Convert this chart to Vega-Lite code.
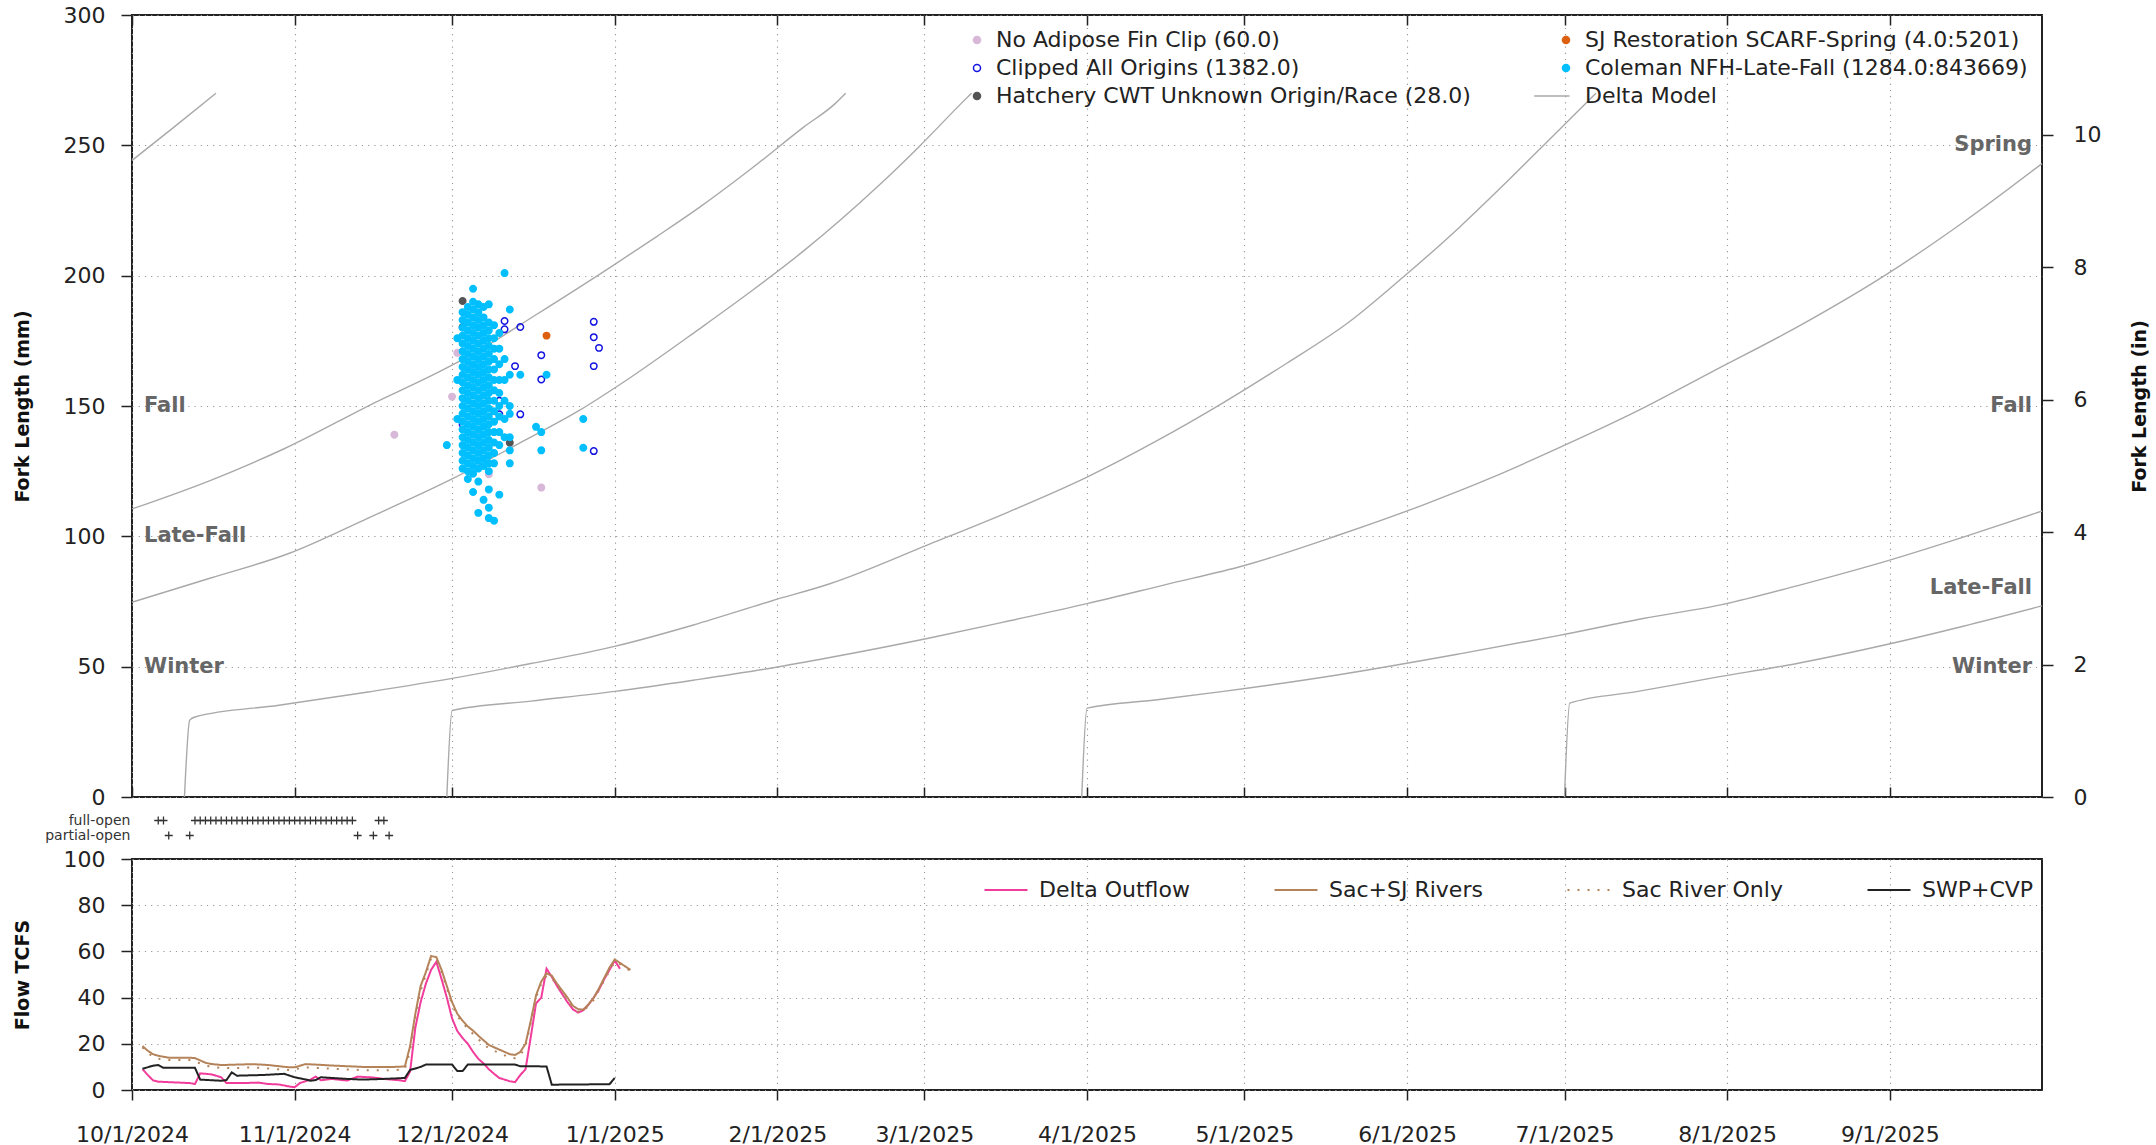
{
"$schema":"https://vega.github.io/schema/vega-lite/v6.json",
"padding":{"left":12,"top":3,"right":4,"bottom":0},
"autosize":{"type":"pad"},
"background":"white",
"bounds":"flush",
"spacing":16,
"resolve":{"scale":{"stroke":"independent","fill":"independent","shape":"independent","strokeDash":"independent"},"legend":{"stroke":"independent","fill":"independent","shape":"independent","strokeDash":"independent"}},
"config":{
 "font":"DejaVu Sans",
 "view":{"stroke":"#222","strokeWidth":2},
 "axis":{"labelFont":"DejaVu Sans","labelFontSize":22,"labelColor":"#222","titleFont":"DejaVu Sans","titleFontSize":19,"titleFontWeight":"bold","titleColor":"#111","tickColor":"#222","tickWidth":1.5,"domain":false,"gridColor":"#999","gridDash":[1.2,5],"gridWidth":1.1,"labelLimit":1000},
 "legend":{"labelFont":"DejaVu Sans","labelFontSize":22,"labelColor":"#222","labelLimit":1000}
},
"datasets":{
"curves":[
{"c":"S0","d":"2024/10/01","v":244.2},{"c":"S0","d":"2024/10/09","v":257},{"c":"S0","d":"2024/10/17","v":270},
{"c":"F","d":"2024/10/01","v":110.5},{"c":"F","d":"2024/10/16","v":121.5},{"c":"F","d":"2024/10/30","v":133.6},{"c":"F","d":"2024/11/17","v":152},{"c":"F","d":"2024/11/25","v":159.6},{"c":"F","d":"2024/12/05","v":170},{"c":"F","d":"2024/12/17","v":185},{"c":"F","d":"2024/12/31","v":203},{"c":"F","d":"2025/01/09","v":215},{"c":"F","d":"2025/01/17","v":226},{"c":"F","d":"2025/01/27","v":241},{"c":"F","d":"2025/02/06","v":257},{"c":"F","d":"2025/02/12","v":266},{"c":"F","d":"2025/02/14","v":270},
{"c":"LF","d":"2024/10/01","v":74.7},{"c":"LF","d":"2024/10/16","v":84},{"c":"LF","d":"2024/10/31","v":93.5},{"c":"LF","d":"2024/11/15","v":107},{"c":"LF","d":"2024/12/01","v":122},{"c":"LF","d":"2024/12/15","v":137},{"c":"LF","d":"2024/12/25","v":148},{"c":"LF","d":"2025/01/03","v":159.6},{"c":"LF","d":"2025/01/17","v":179.4},{"c":"LF","d":"2025/01/27","v":194},{"c":"LF","d":"2025/02/06","v":209.5},{"c":"LF","d":"2025/02/20","v":234},{"c":"LF","d":"2025/02/28","v":249.5},{"c":"LF","d":"2025/03/08","v":266},{"c":"LF","d":"2025/03/10","v":270},
{"c":"A","d":"2024/10/11","v":0},{"c":"A","d":"2024/10/12","v":29.5},{"c":"A","d":"2024/10/13","v":30.7},{"c":"A","d":"2024/10/29","v":35.2},{"c":"A","d":"2024/11/15","v":40.3},{"c":"A","d":"2024/12/01","v":45.5},{"c":"A","d":"2024/12/16","v":51.2},{"c":"A","d":"2025/01/01","v":57.8},{"c":"A","d":"2025/01/16","v":66},{"c":"A","d":"2025/01/31","v":75.3},{"c":"A","d":"2025/02/11","v":81.8},{"c":"A","d":"2025/03/02","v":97},{"c":"A","d":"2025/03/17","v":109.3},{"c":"A","d":"2025/04/01","v":122.7},{"c":"A","d":"2025/04/14","v":136.3},{"c":"A","d":"2025/04/27","v":151.3},{"c":"A","d":"2025/05/09","v":166.3},{"c":"A","d":"2025/05/21","v":182.3},{"c":"A","d":"2025/05/31","v":199},{"c":"A","d":"2025/06/11","v":218.6},{"c":"A","d":"2025/06/20","v":236},{"c":"A","d":"2025/06/29","v":254},{"c":"A","d":"2025/07/07","v":270},
{"c":"B","d":"2024/11/30","v":0},{"c":"B","d":"2024/12/01","v":33.2},{"c":"B","d":"2024/12/16","v":36.8},{"c":"B","d":"2025/01/01","v":40.5},{"c":"B","d":"2025/01/16","v":44.8},{"c":"B","d":"2025/01/31","v":49.5},{"c":"B","d":"2025/02/11","v":53.5},{"c":"B","d":"2025/03/02","v":61},{"c":"B","d":"2025/03/17","v":67.5},{"c":"B","d":"2025/04/01","v":74.2},{"c":"B","d":"2025/04/16","v":81.5},{"c":"B","d":"2025/05/01","v":88.8},{"c":"B","d":"2025/05/19","v":100.5},{"c":"B","d":"2025/06/04","v":112},{"c":"B","d":"2025/06/17","v":122.4},{"c":"B","d":"2025/06/30","v":134},{"c":"B","d":"2025/07/15","v":148.2},{"c":"B","d":"2025/07/29","v":163},{"c":"B","d":"2025/08/15","v":181},{"c":"B","d":"2025/08/31","v":200},{"c":"B","d":"2025/09/15","v":220.5},{"c":"B","d":"2025/09/30","v":243},
{"c":"C","d":"2025/03/31","v":0},{"c":"C","d":"2025/04/01","v":34.1},{"c":"C","d":"2025/04/14","v":37.2},{"c":"C","d":"2025/04/27","v":40.5},{"c":"C","d":"2025/05/19","v":46.9},{"c":"C","d":"2025/06/11","v":54.9},{"c":"C","d":"2025/06/30","v":62},{"c":"C","d":"2025/07/16","v":68.5},{"c":"C","d":"2025/07/31","v":73.8},{"c":"C","d":"2025/08/15","v":81.4},{"c":"C","d":"2025/08/31","v":90.3},{"c":"C","d":"2025/09/15","v":99.7},{"c":"C","d":"2025/09/30","v":109.7},
{"c":"D","d":"2025/07/01","v":0},{"c":"D","d":"2025/07/02","v":36},{"c":"D","d":"2025/07/15","v":40.5},{"c":"D","d":"2025/07/29","v":45.6},{"c":"D","d":"2025/08/15","v":51.5},{"c":"D","d":"2025/08/31","v":58.3},{"c":"D","d":"2025/09/15","v":65.5},{"c":"D","d":"2025/09/30","v":73.3}
],
"labelsL":[{"t":"Fall","v":150},{"t":"Late-Fall","v":100},{"t":"Winter","v":50}],
"labelsR":[{"t":"Spring","v":250},{"t":"Fall","v":150},{"t":"Late-Fall","v":80},{"t":"Winter","v":50}],
"fish":[
{"g":"N","d":"2024/11/20","v":139},{"g":"N","d":"2024/12/01","v":153.6},{"g":"N","d":"2024/12/02","v":170.4},{"g":"N","d":"2024/12/08","v":123.8},{"g":"N","d":"2024/12/18","v":118.7},{"g":"N","d":"2024/12/04","v":165},{"g":"N","d":"2024/12/06","v":140},
{"g":"K","d":"2024/12/11","v":182.6},{"g":"K","d":"2024/12/11","v":179.4},{"g":"K","d":"2024/12/14","v":180.3},{"g":"K","d":"2024/12/18","v":169.5},{"g":"K","d":"2024/12/18","v":160.2},{"g":"K","d":"2024/12/13","v":165.3},{"g":"K","d":"2024/12/10","v":146.8},{"g":"K","d":"2024/12/14","v":146.8},{"g":"K","d":"2024/12/28","v":182.3},{"g":"K","d":"2024/12/28","v":176.4},{"g":"K","d":"2024/12/29","v":172.3},{"g":"K","d":"2024/12/28","v":165.3},{"g":"K","d":"2024/12/28","v":132.7},{"g":"K","d":"2024/12/03","v":143},{"g":"K","d":"2024/12/10","v":152},
{"g":"H","d":"2024/12/03","v":190.3},{"g":"H","d":"2024/12/03","v":180.3},{"g":"H","d":"2024/12/12","v":135.9},
{"g":"S","d":"2024/12/19","v":177},
{"g":"C","d":"2024/11/30","v":135},
{"g":"C","d":"2024/12/02","v":176},{"g":"C","d":"2024/12/02","v":160},{"g":"C","d":"2024/12/02","v":145},
{"g":"C","d":"2024/12/03","v":186},{"g":"C","d":"2024/12/03","v":183},{"g":"C","d":"2024/12/03","v":180},{"g":"C","d":"2024/12/03","v":177},{"g":"C","d":"2024/12/03","v":174},{"g":"C","d":"2024/12/03","v":171},{"g":"C","d":"2024/12/03","v":168},{"g":"C","d":"2024/12/03","v":165},{"g":"C","d":"2024/12/03","v":162},{"g":"C","d":"2024/12/03","v":159},{"g":"C","d":"2024/12/03","v":156},{"g":"C","d":"2024/12/03","v":153},{"g":"C","d":"2024/12/03","v":150},{"g":"C","d":"2024/12/03","v":147},{"g":"C","d":"2024/12/03","v":144},{"g":"C","d":"2024/12/03","v":141},{"g":"C","d":"2024/12/03","v":138},{"g":"C","d":"2024/12/03","v":135},{"g":"C","d":"2024/12/03","v":132},{"g":"C","d":"2024/12/03","v":129},{"g":"C","d":"2024/12/03","v":126},
{"g":"C","d":"2024/12/04","v":188},{"g":"C","d":"2024/12/04","v":185},{"g":"C","d":"2024/12/04","v":182},{"g":"C","d":"2024/12/04","v":179},{"g":"C","d":"2024/12/04","v":176},{"g":"C","d":"2024/12/04","v":173},{"g":"C","d":"2024/12/04","v":170},{"g":"C","d":"2024/12/04","v":167},{"g":"C","d":"2024/12/04","v":164},{"g":"C","d":"2024/12/04","v":161},{"g":"C","d":"2024/12/04","v":158},{"g":"C","d":"2024/12/04","v":155},{"g":"C","d":"2024/12/04","v":152},{"g":"C","d":"2024/12/04","v":149},{"g":"C","d":"2024/12/04","v":146},{"g":"C","d":"2024/12/04","v":143},{"g":"C","d":"2024/12/04","v":140},{"g":"C","d":"2024/12/04","v":137},{"g":"C","d":"2024/12/04","v":134},{"g":"C","d":"2024/12/04","v":131},{"g":"C","d":"2024/12/04","v":128},{"g":"C","d":"2024/12/04","v":125},{"g":"C","d":"2024/12/04","v":122},
{"g":"C","d":"2024/12/05","v":195},{"g":"C","d":"2024/12/05","v":190},{"g":"C","d":"2024/12/05","v":187},{"g":"C","d":"2024/12/05","v":184},{"g":"C","d":"2024/12/05","v":181},{"g":"C","d":"2024/12/05","v":178},{"g":"C","d":"2024/12/05","v":175},{"g":"C","d":"2024/12/05","v":172},{"g":"C","d":"2024/12/05","v":169},{"g":"C","d":"2024/12/05","v":166},{"g":"C","d":"2024/12/05","v":163},{"g":"C","d":"2024/12/05","v":160},{"g":"C","d":"2024/12/05","v":157},{"g":"C","d":"2024/12/05","v":154},{"g":"C","d":"2024/12/05","v":151},{"g":"C","d":"2024/12/05","v":148},{"g":"C","d":"2024/12/05","v":145},{"g":"C","d":"2024/12/05","v":142},{"g":"C","d":"2024/12/05","v":139},{"g":"C","d":"2024/12/05","v":136},{"g":"C","d":"2024/12/05","v":133},{"g":"C","d":"2024/12/05","v":130},{"g":"C","d":"2024/12/05","v":127},{"g":"C","d":"2024/12/05","v":124},{"g":"C","d":"2024/12/05","v":117},
{"g":"C","d":"2024/12/06","v":189},{"g":"C","d":"2024/12/06","v":186},{"g":"C","d":"2024/12/06","v":183},{"g":"C","d":"2024/12/06","v":180},{"g":"C","d":"2024/12/06","v":177},{"g":"C","d":"2024/12/06","v":174},{"g":"C","d":"2024/12/06","v":171},{"g":"C","d":"2024/12/06","v":168},{"g":"C","d":"2024/12/06","v":165},{"g":"C","d":"2024/12/06","v":162},{"g":"C","d":"2024/12/06","v":159},{"g":"C","d":"2024/12/06","v":156},{"g":"C","d":"2024/12/06","v":153},{"g":"C","d":"2024/12/06","v":150},{"g":"C","d":"2024/12/06","v":147},{"g":"C","d":"2024/12/06","v":144},{"g":"C","d":"2024/12/06","v":141},{"g":"C","d":"2024/12/06","v":138},{"g":"C","d":"2024/12/06","v":135},{"g":"C","d":"2024/12/06","v":132},{"g":"C","d":"2024/12/06","v":129},{"g":"C","d":"2024/12/06","v":126},{"g":"C","d":"2024/12/06","v":121},{"g":"C","d":"2024/12/06","v":109},
{"g":"C","d":"2024/12/07","v":188},{"g":"C","d":"2024/12/07","v":184},{"g":"C","d":"2024/12/07","v":181},{"g":"C","d":"2024/12/07","v":178},{"g":"C","d":"2024/12/07","v":175},{"g":"C","d":"2024/12/07","v":172},{"g":"C","d":"2024/12/07","v":169},{"g":"C","d":"2024/12/07","v":166},{"g":"C","d":"2024/12/07","v":163},{"g":"C","d":"2024/12/07","v":160},{"g":"C","d":"2024/12/07","v":157},{"g":"C","d":"2024/12/07","v":154},{"g":"C","d":"2024/12/07","v":151},{"g":"C","d":"2024/12/07","v":148},{"g":"C","d":"2024/12/07","v":145},{"g":"C","d":"2024/12/07","v":142},{"g":"C","d":"2024/12/07","v":139},{"g":"C","d":"2024/12/07","v":136},{"g":"C","d":"2024/12/07","v":133},{"g":"C","d":"2024/12/07","v":130},{"g":"C","d":"2024/12/07","v":127},{"g":"C","d":"2024/12/07","v":114},
{"g":"C","d":"2024/12/08","v":189},{"g":"C","d":"2024/12/08","v":182},{"g":"C","d":"2024/12/08","v":179},{"g":"C","d":"2024/12/08","v":176},{"g":"C","d":"2024/12/08","v":173},{"g":"C","d":"2024/12/08","v":170},{"g":"C","d":"2024/12/08","v":167},{"g":"C","d":"2024/12/08","v":164},{"g":"C","d":"2024/12/08","v":161},{"g":"C","d":"2024/12/08","v":158},{"g":"C","d":"2024/12/08","v":155},{"g":"C","d":"2024/12/08","v":152},{"g":"C","d":"2024/12/08","v":149},{"g":"C","d":"2024/12/08","v":146},{"g":"C","d":"2024/12/08","v":143},{"g":"C","d":"2024/12/08","v":140},{"g":"C","d":"2024/12/08","v":137},{"g":"C","d":"2024/12/08","v":134},{"g":"C","d":"2024/12/08","v":131},{"g":"C","d":"2024/12/08","v":128},{"g":"C","d":"2024/12/08","v":125},{"g":"C","d":"2024/12/08","v":118},{"g":"C","d":"2024/12/08","v":111},{"g":"C","d":"2024/12/08","v":107},
{"g":"C","d":"2024/12/09","v":181},{"g":"C","d":"2024/12/09","v":176},{"g":"C","d":"2024/12/09","v":172},{"g":"C","d":"2024/12/09","v":168},{"g":"C","d":"2024/12/09","v":164},{"g":"C","d":"2024/12/09","v":160},{"g":"C","d":"2024/12/09","v":156},{"g":"C","d":"2024/12/09","v":152},{"g":"C","d":"2024/12/09","v":148},{"g":"C","d":"2024/12/09","v":144},{"g":"C","d":"2024/12/09","v":140},{"g":"C","d":"2024/12/09","v":136},{"g":"C","d":"2024/12/09","v":132},{"g":"C","d":"2024/12/09","v":128},{"g":"C","d":"2024/12/09","v":106},
{"g":"C","d":"2024/12/10","v":178},{"g":"C","d":"2024/12/10","v":172},{"g":"C","d":"2024/12/10","v":166},{"g":"C","d":"2024/12/10","v":160},{"g":"C","d":"2024/12/10","v":155},{"g":"C","d":"2024/12/10","v":150},{"g":"C","d":"2024/12/10","v":146},{"g":"C","d":"2024/12/10","v":140},{"g":"C","d":"2024/12/10","v":135},{"g":"C","d":"2024/12/10","v":116},
{"g":"C","d":"2024/12/11","v":201},{"g":"C","d":"2024/12/11","v":168},{"g":"C","d":"2024/12/11","v":160},{"g":"C","d":"2024/12/11","v":152},{"g":"C","d":"2024/12/11","v":145},{"g":"C","d":"2024/12/11","v":138},
{"g":"C","d":"2024/12/12","v":187},{"g":"C","d":"2024/12/12","v":162},{"g":"C","d":"2024/12/12","v":150},{"g":"C","d":"2024/12/12","v":147},{"g":"C","d":"2024/12/12","v":138},{"g":"C","d":"2024/12/12","v":133},{"g":"C","d":"2024/12/12","v":128},
{"g":"C","d":"2024/12/14","v":162},{"g":"C","d":"2024/12/17","v":142},{"g":"C","d":"2024/12/18","v":140},{"g":"C","d":"2024/12/18","v":133},{"g":"C","d":"2024/12/19","v":162},{"g":"C","d":"2024/12/26","v":145},{"g":"C","d":"2024/12/26","v":134}
],
"gates":[
{"k":"full-open","d":"2024/10/06"},{"k":"full-open","d":"2024/10/07"},{"k":"partial-open","d":"2024/10/08"},{"k":"partial-open","d":"2024/10/12"},
{"k":"full-open","d":"2024/10/13"},{"k":"full-open","d":"2024/10/14"},{"k":"full-open","d":"2024/10/15"},{"k":"full-open","d":"2024/10/16"},{"k":"full-open","d":"2024/10/17"},{"k":"full-open","d":"2024/10/18"},{"k":"full-open","d":"2024/10/19"},{"k":"full-open","d":"2024/10/20"},{"k":"full-open","d":"2024/10/21"},{"k":"full-open","d":"2024/10/22"},{"k":"full-open","d":"2024/10/23"},{"k":"full-open","d":"2024/10/24"},{"k":"full-open","d":"2024/10/25"},{"k":"full-open","d":"2024/10/26"},{"k":"full-open","d":"2024/10/27"},{"k":"full-open","d":"2024/10/28"},{"k":"full-open","d":"2024/10/29"},{"k":"full-open","d":"2024/10/30"},{"k":"full-open","d":"2024/10/31"},
{"k":"full-open","d":"2024/11/01"},{"k":"full-open","d":"2024/11/02"},{"k":"full-open","d":"2024/11/03"},{"k":"full-open","d":"2024/11/04"},{"k":"full-open","d":"2024/11/05"},{"k":"full-open","d":"2024/11/06"},{"k":"full-open","d":"2024/11/07"},{"k":"full-open","d":"2024/11/08"},{"k":"full-open","d":"2024/11/09"},{"k":"full-open","d":"2024/11/10"},{"k":"full-open","d":"2024/11/11"},{"k":"full-open","d":"2024/11/12"},
{"k":"partial-open","d":"2024/11/13"},{"k":"partial-open","d":"2024/11/16"},{"k":"full-open","d":"2024/11/17"},{"k":"full-open","d":"2024/11/18"},{"k":"partial-open","d":"2024/11/19"}
],
"flows":[
{"s":"O","d":"2024/10/03","v":9.0},{"s":"O","d":"2024/10/04","v":6.5},{"s":"O","d":"2024/10/05","v":4.2},{"s":"O","d":"2024/10/06","v":3.6},{"s":"O","d":"2024/10/09","v":3.3},{"s":"O","d":"2024/10/12","v":3.0},{"s":"O","d":"2024/10/13","v":2.6},{"s":"O","d":"2024/10/14","v":7.2},{"s":"O","d":"2024/10/16","v":6.8},{"s":"O","d":"2024/10/17","v":6.2},{"s":"O","d":"2024/10/18","v":5.5},{"s":"O","d":"2024/10/19","v":3.0},{"s":"O","d":"2024/10/22","v":3.0},{"s":"O","d":"2024/10/25","v":3.2},{"s":"O","d":"2024/10/27","v":2.6},{"s":"O","d":"2024/10/29","v":2.4},{"s":"O","d":"2024/10/31","v":1.5},{"s":"O","d":"2024/11/01","v":1.2},{"s":"O","d":"2024/11/02","v":3.0},{"s":"O","d":"2024/11/04","v":4.5},{"s":"O","d":"2024/11/05","v":5.8},{"s":"O","d":"2024/11/06","v":4.2},{"s":"O","d":"2024/11/08","v":4.8},{"s":"O","d":"2024/11/11","v":4.1},{"s":"O","d":"2024/11/13","v":5.8},{"s":"O","d":"2024/11/16","v":5.4},{"s":"O","d":"2024/11/18","v":4.8},{"s":"O","d":"2024/11/21","v":4.2},{"s":"O","d":"2024/11/22","v":3.8},{"s":"O","d":"2024/11/23","v":8},{"s":"O","d":"2024/11/24","v":27},{"s":"O","d":"2024/11/25","v":38},{"s":"O","d":"2024/11/26","v":46},{"s":"O","d":"2024/11/27","v":52},{"s":"O","d":"2024/11/28","v":55.5},{"s":"O","d":"2024/11/29","v":48},{"s":"O","d":"2024/11/30","v":40},{"s":"O","d":"2024/12/01","v":31},{"s":"O","d":"2024/12/02","v":25.5},{"s":"O","d":"2024/12/03","v":22.5},{"s":"O","d":"2024/12/04","v":20},{"s":"O","d":"2024/12/05","v":16.5},{"s":"O","d":"2024/12/06","v":13.5},{"s":"O","d":"2024/12/07","v":11.5},{"s":"O","d":"2024/12/08","v":9},{"s":"O","d":"2024/12/09","v":7},{"s":"O","d":"2024/12/10","v":5.2},{"s":"O","d":"2024/12/11","v":4.5},{"s":"O","d":"2024/12/12","v":3.8},{"s":"O","d":"2024/12/13","v":3.4},{"s":"O","d":"2024/12/14","v":6.5},{"s":"O","d":"2024/12/15","v":9},{"s":"O","d":"2024/12/16","v":23},{"s":"O","d":"2024/12/17","v":37.5},{"s":"O","d":"2024/12/18","v":40},{"s":"O","d":"2024/12/19","v":52.5},{"s":"O","d":"2024/12/20","v":49},{"s":"O","d":"2024/12/21","v":45},{"s":"O","d":"2024/12/22","v":41.5},{"s":"O","d":"2024/12/23","v":38},{"s":"O","d":"2024/12/24","v":35},{"s":"O","d":"2024/12/25","v":33.5},{"s":"O","d":"2024/12/26","v":34.5},{"s":"O","d":"2024/12/27","v":37},{"s":"O","d":"2024/12/28","v":40},{"s":"O","d":"2024/12/29","v":43.5},{"s":"O","d":"2024/12/30","v":48},{"s":"O","d":"2024/12/31","v":52},{"s":"O","d":"2025/01/01","v":56},{"s":"O","d":"2025/01/02","v":52.5},
{"s":"R","d":"2024/10/03","v":19},{"s":"R","d":"2024/10/04","v":17},{"s":"R","d":"2024/10/05","v":15.5},{"s":"R","d":"2024/10/06","v":14.8},{"s":"R","d":"2024/10/08","v":14},{"s":"R","d":"2024/10/12","v":14},{"s":"R","d":"2024/10/13","v":13.8},{"s":"R","d":"2024/10/14","v":12.8},{"s":"R","d":"2024/10/15","v":11.8},{"s":"R","d":"2024/10/16","v":11.3},{"s":"R","d":"2024/10/18","v":10.8},{"s":"R","d":"2024/10/21","v":11},{"s":"R","d":"2024/10/24","v":11.2},{"s":"R","d":"2024/10/27","v":10.8},{"s":"R","d":"2024/10/29","v":10.3},{"s":"R","d":"2024/10/31","v":9.8},{"s":"R","d":"2024/11/01","v":9.8},{"s":"R","d":"2024/11/03","v":11.2},{"s":"R","d":"2024/11/05","v":11},{"s":"R","d":"2024/11/08","v":10.6},{"s":"R","d":"2024/11/11","v":10.3},{"s":"R","d":"2024/11/14","v":10},{"s":"R","d":"2024/11/17","v":10},{"s":"R","d":"2024/11/20","v":10},{"s":"R","d":"2024/11/22","v":10.2},{"s":"R","d":"2024/11/23","v":19},{"s":"R","d":"2024/11/24","v":33},{"s":"R","d":"2024/11/25","v":45},{"s":"R","d":"2024/11/26","v":51},{"s":"R","d":"2024/11/27","v":58},{"s":"R","d":"2024/11/28","v":57.5},{"s":"R","d":"2024/11/29","v":52},{"s":"R","d":"2024/11/30","v":45},{"s":"R","d":"2024/12/01","v":38},{"s":"R","d":"2024/12/02","v":33},{"s":"R","d":"2024/12/03","v":30},{"s":"R","d":"2024/12/04","v":27.5},{"s":"R","d":"2024/12/05","v":25.7},{"s":"R","d":"2024/12/06","v":23.5},{"s":"R","d":"2024/12/07","v":21.5},{"s":"R","d":"2024/12/08","v":19.5},{"s":"R","d":"2024/12/09","v":18.5},{"s":"R","d":"2024/12/10","v":17.5},{"s":"R","d":"2024/12/11","v":16.5},{"s":"R","d":"2024/12/12","v":15.5},{"s":"R","d":"2024/12/13","v":15.2},{"s":"R","d":"2024/12/14","v":16.5},{"s":"R","d":"2024/12/15","v":20},{"s":"R","d":"2024/12/16","v":30},{"s":"R","d":"2024/12/17","v":41},{"s":"R","d":"2024/12/18","v":47},{"s":"R","d":"2024/12/19","v":50.5},{"s":"R","d":"2024/12/20","v":49.5},{"s":"R","d":"2024/12/21","v":46},{"s":"R","d":"2024/12/22","v":43},{"s":"R","d":"2024/12/23","v":40},{"s":"R","d":"2024/12/24","v":36.5},{"s":"R","d":"2024/12/25","v":35},{"s":"R","d":"2024/12/26","v":34.8},{"s":"R","d":"2024/12/27","v":37},{"s":"R","d":"2024/12/28","v":40},{"s":"R","d":"2024/12/29","v":44},{"s":"R","d":"2024/12/30","v":48.5},{"s":"R","d":"2024/12/31","v":53},{"s":"R","d":"2025/01/01","v":56.5},{"s":"R","d":"2025/01/02","v":55},{"s":"R","d":"2025/01/03","v":53.5},{"s":"R","d":"2025/01/04","v":52},
{"s":"S","d":"2024/10/03","v":18.5},{"s":"S","d":"2024/10/04","v":16},{"s":"S","d":"2024/10/05","v":14.5},{"s":"S","d":"2024/10/06","v":13.5},{"s":"S","d":"2024/10/08","v":13},{"s":"S","d":"2024/10/12","v":13},{"s":"S","d":"2024/10/14","v":11.5},{"s":"S","d":"2024/10/16","v":10},{"s":"S","d":"2024/10/18","v":9.5},{"s":"S","d":"2024/10/21","v":9.5},{"s":"S","d":"2024/10/24","v":9.8},{"s":"S","d":"2024/10/27","v":9.3},{"s":"S","d":"2024/10/31","v":8.6},{"s":"S","d":"2024/11/03","v":9.8},{"s":"S","d":"2024/11/08","v":9.2},{"s":"S","d":"2024/11/14","v":8.6},{"s":"S","d":"2024/11/20","v":8.6},{"s":"S","d":"2024/11/22","v":9},{"s":"S","d":"2024/11/23","v":17},{"s":"S","d":"2024/11/24","v":31},{"s":"S","d":"2024/11/25","v":43},{"s":"S","d":"2024/11/26","v":50},{"s":"S","d":"2024/11/27","v":57},{"s":"S","d":"2024/11/28","v":56.5},{"s":"S","d":"2024/11/29","v":51},{"s":"S","d":"2024/11/30","v":44},{"s":"S","d":"2024/12/01","v":37},{"s":"S","d":"2024/12/02","v":32},{"s":"S","d":"2024/12/04","v":26.5},{"s":"S","d":"2024/12/06","v":22},{"s":"S","d":"2024/12/08","v":18},{"s":"S","d":"2024/12/10","v":16},{"s":"S","d":"2024/12/12","v":14},{"s":"S","d":"2024/12/13","v":13.8},{"s":"S","d":"2024/12/14","v":15},{"s":"S","d":"2024/12/15","v":19},{"s":"S","d":"2024/12/16","v":29},{"s":"S","d":"2024/12/17","v":40},{"s":"S","d":"2024/12/18","v":46},{"s":"S","d":"2024/12/19","v":49.5},{"s":"S","d":"2024/12/20","v":48.5},{"s":"S","d":"2024/12/22","v":42},{"s":"S","d":"2024/12/24","v":35.5},{"s":"S","d":"2024/12/25","v":34},{"s":"S","d":"2024/12/26","v":34},{"s":"S","d":"2024/12/28","v":39},{"s":"S","d":"2024/12/30","v":47.5},{"s":"S","d":"2025/01/01","v":55.5},{"s":"S","d":"2025/01/02","v":54.5},{"s":"S","d":"2025/01/04","v":51.5},
{"s":"W","d":"2024/10/03","v":9.2},{"s":"W","d":"2024/10/05","v":10.5},{"s":"W","d":"2024/10/06","v":10.8},{"s":"W","d":"2024/10/07","v":9.6},{"s":"W","d":"2024/10/13","v":9.6},{"s":"W","d":"2024/10/14","v":4.5},{"s":"W","d":"2024/10/18","v":4.0},{"s":"W","d":"2024/10/19","v":4.3},{"s":"W","d":"2024/10/20","v":7.6},{"s":"W","d":"2024/10/21","v":6.2},{"s":"W","d":"2024/10/26","v":6.5},{"s":"W","d":"2024/10/30","v":7.0},{"s":"W","d":"2024/11/01","v":5.5},{"s":"W","d":"2024/11/03","v":4.6},{"s":"W","d":"2024/11/04","v":4.0},{"s":"W","d":"2024/11/05","v":4.3},{"s":"W","d":"2024/11/06","v":5.5},{"s":"W","d":"2024/11/11","v":4.8},{"s":"W","d":"2024/11/14","v":4.5},{"s":"W","d":"2024/11/18","v":4.8},{"s":"W","d":"2024/11/22","v":5.2},{"s":"W","d":"2024/11/23","v":8.7},{"s":"W","d":"2024/11/24","v":9.3},{"s":"W","d":"2024/11/25","v":10},{"s":"W","d":"2024/11/26","v":11},{"s":"W","d":"2024/12/01","v":11},{"s":"W","d":"2024/12/02","v":8.2},{"s":"W","d":"2024/12/03","v":8.2},{"s":"W","d":"2024/12/04","v":11},{"s":"W","d":"2024/12/13","v":11},{"s":"W","d":"2024/12/14","v":10.3},{"s":"W","d":"2024/12/19","v":10.2},{"s":"W","d":"2024/12/20","v":2.3},{"s":"W","d":"2024/12/25","v":2.4},{"s":"W","d":"2024/12/31","v":2.5},{"s":"W","d":"2025/01/01","v":5.2}
]
},
"vconcat":[
{
 "width":1910,"height":782,
 "layer":[
  {"layer":[
   {"data":{"name":"curves"},
    "mark":{"type":"line","stroke":"#a9a9a9","strokeWidth":1.4,"interpolate":"monotone"},
    "encoding":{
     "x":{"field":"d","type":"temporal","scale":{"domain":[{"year":2024,"month":10,"date":1},{"year":2025,"month":9,"date":30}]},
          "axis":{"orient":"bottom","title":null,"labels":false,"tickSize":-10,"grid":true,"tickCount":{"interval":"month","step":1}}},
     "y":{"field":"v","type":"quantitative","scale":{"domain":[0,300],"nice":false},
          "axis":{"title":"Fork Length (mm)","values":[0,50,100,150,200,250,300],"grid":true,"tickSize":11,"labelPadding":16,"titlePadding":31}},
     "detail":{"field":"c"}}},
   {"data":{"name":"labelsL"},
    "mark":{"type":"text","align":"left","baseline":"middle","dx":12,"fontSize":21,"fontWeight":"bold","fill":"#666"},
    "encoding":{
     "x":{"datum":{"year":2024,"month":10,"date":1},"type":"temporal","scale":{"domain":[{"year":2024,"month":10,"date":1},{"year":2025,"month":9,"date":30}]}},
     "y":{"field":"v","type":"quantitative","scale":{"domain":[0,300],"nice":false}},
     "text":{"field":"t"}}},
   {"data":{"name":"labelsR"},
    "mark":{"type":"text","align":"right","baseline":"middle","dx":-10,"fontSize":21,"fontWeight":"bold","fill":"#666"},
    "encoding":{
     "x":{"datum":{"year":2025,"month":9,"date":30},"type":"temporal","scale":{"domain":[{"year":2024,"month":10,"date":1},{"year":2025,"month":9,"date":30}]}},
     "y":{"field":"v","type":"quantitative","scale":{"domain":[0,300],"nice":false}},
     "text":{"field":"t"}}},
   {"data":{"name":"fish"},
    "mark":{"type":"point","size":42,"strokeWidth":1.5,"opacity":1},
    "encoding":{
     "x":{"field":"d","type":"temporal","scale":{"domain":[{"year":2024,"month":10,"date":1},{"year":2025,"month":9,"date":30}]}},
     "y":{"field":"v","type":"quantitative","scale":{"domain":[0,300],"nice":false}},
     "stroke":{"field":"g","type":"nominal","scale":{"domain":["N","K","H","S","C","D"],"range":["#d8b8d8","#1414e0","#555555","#dd6010","#00bfff","#a9a9a9"]},
       "legend":{"title":null,"orient":"top-right","columns":2,"offset":14,"columnPadding":60,"rowPadding":6,"symbolSize":50,"symbolStrokeWidth":1.5,"labelOffset":8,
        "labelExpr":"datum.label=='N'?'No Adipose Fin Clip (60.0)':datum.label=='S'?'SJ Restoration SCARF-Spring (4.0:5201)':datum.label=='K'?'Clipped All Origins (1382.0)':datum.label=='C'?'Coleman NFH-Late-Fall (1284.0:843669)':datum.label=='H'?'Hatchery CWT Unknown Origin/Race (28.0)':'Delta Model'"}},
     "fill":{"field":"g","type":"nominal","scale":{"domain":["N","K","H","S","C","D"],"range":["#d8b8d8","transparent","#555555","#dd6010","#00bfff","transparent"]},
       "legend":{"title":null,"orient":"top-right","columns":2,"offset":14,"columnPadding":60,"rowPadding":6,"symbolSize":50,"symbolStrokeWidth":1.5,"labelOffset":8,
        "labelExpr":"datum.label=='N'?'No Adipose Fin Clip (60.0)':datum.label=='S'?'SJ Restoration SCARF-Spring (4.0:5201)':datum.label=='K'?'Clipped All Origins (1382.0)':datum.label=='C'?'Coleman NFH-Late-Fall (1284.0:843669)':datum.label=='H'?'Hatchery CWT Unknown Origin/Race (28.0)':'Delta Model'"}},
     "shape":{"field":"g","type":"nominal","scale":{"domain":["N","K","H","S","C","D"],"range":["circle","circle","circle","circle","circle","M-9,0H1"]},
       "legend":{"title":null,"orient":"top-right","columns":2,"offset":14,"columnPadding":60,"rowPadding":6,"symbolSize":50,"symbolStrokeWidth":1.5,"labelOffset":8,
        "labelExpr":"datum.label=='N'?'No Adipose Fin Clip (60.0)':datum.label=='S'?'SJ Restoration SCARF-Spring (4.0:5201)':datum.label=='K'?'Clipped All Origins (1382.0)':datum.label=='C'?'Coleman NFH-Late-Fall (1284.0:843669)':datum.label=='H'?'Hatchery CWT Unknown Origin/Race (28.0)':'Delta Model'"}}
    }}
  ]},
  {"data":{"values":[{}]},
   "mark":{"type":"point","opacity":0},
   "encoding":{
    "x":{"datum":{"year":2024,"month":10,"date":1},"type":"temporal","scale":{"domain":[{"year":2024,"month":10,"date":1},{"year":2025,"month":9,"date":30}]},
         "axis":{"orient":"top","title":null,"labels":false,"tickSize":-10,"grid":false,"tickCount":{"interval":"month","step":1}}},
    "y":{"datum":0,"type":"quantitative","scale":{"domain":[0,11.811],"nice":false,"zero":false},
         "axis":{"orient":"right","title":"Fork Length (in)","titleAngle":270,"titleBaseline":"top","values":[0,2,4,6,8,10],"grid":false,"tickSize":11,"labelPadding":20,"titlePadding":30}}
   }}
 ],
 "resolve":{"scale":{"y":"independent"},"axis":{"x":"independent","y":"independent"}}
},
{
 "width":1910,"height":30,
 "view":{"stroke":null},
 "data":{"name":"gates"},
 "mark":{"type":"point","shape":"M-1,0H1M0,-1V1","filled":false,"stroke":"#333","strokeWidth":1.3,"size":64,"opacity":1},
 "encoding":{
  "x":{"field":"d","type":"temporal","scale":{"domain":[{"year":2024,"month":10,"date":1},{"year":2025,"month":9,"date":30}]},"axis":null},
  "y":{"field":"k","type":"nominal","scale":{"domain":["full-open","partial-open"]},
       "axis":{"title":null,"ticks":false,"domain":false,"grid":false,"labelFontSize":14,"labelPadding":2,"labelColor":"#333"}}
 }
},
{
 "width":1910,"height":231,
 "data":{"name":"flows"},
 "mark":{"type":"line","strokeWidth":2},
 "encoding":{
  "x":{"field":"d","type":"temporal","scale":{"domain":[{"year":2024,"month":10,"date":1},{"year":2025,"month":9,"date":30}]},
       "axis":{"title":null,"format":"%-m/%-d/%Y","tickCount":{"interval":"month","step":1},"grid":true,"tickSize":10,"labelPadding":24,"labelFontSize":22,"labelFlush":false,"labelOverlap":false}},
  "y":{"field":"v","type":"quantitative","scale":{"domain":[0,100],"nice":false},
       "axis":{"title":"Flow TCFS","values":[0,20,40,60,80,100],"grid":true,"tickSize":11,"labelPadding":16,"titlePadding":31}},
  "stroke":{"field":"s","type":"nominal","scale":{"domain":["O","R","S","W"],"range":["#f23c9c","#b5835a","#b5835a","#222222"]},
    "legend":{"title":null,"orient":"top-right","direction":"horizontal","offset":8,"columnPadding":80,"symbolSize":1850,"symbolStrokeWidth":2,"labelOffset":10,
     "labelExpr":"datum.label=='O'?'Delta Outflow':datum.label=='R'?'Sac+SJ Rivers':datum.label=='S'?'Sac River Only':'SWP+CVP'"}},
  "strokeDash":{"field":"s","type":"nominal","scale":{"domain":["O","R","S","W"],"range":[[1,0],[1,0],[2,8],[1,0]]},
    "legend":{"title":null,"orient":"top-right","direction":"horizontal","offset":8,"columnPadding":80,"symbolSize":1850,"symbolStrokeWidth":2,"labelOffset":10,
     "labelExpr":"datum.label=='O'?'Delta Outflow':datum.label=='R'?'Sac+SJ Rivers':datum.label=='S'?'Sac River Only':'SWP+CVP'"}}
 }
}
]
}
